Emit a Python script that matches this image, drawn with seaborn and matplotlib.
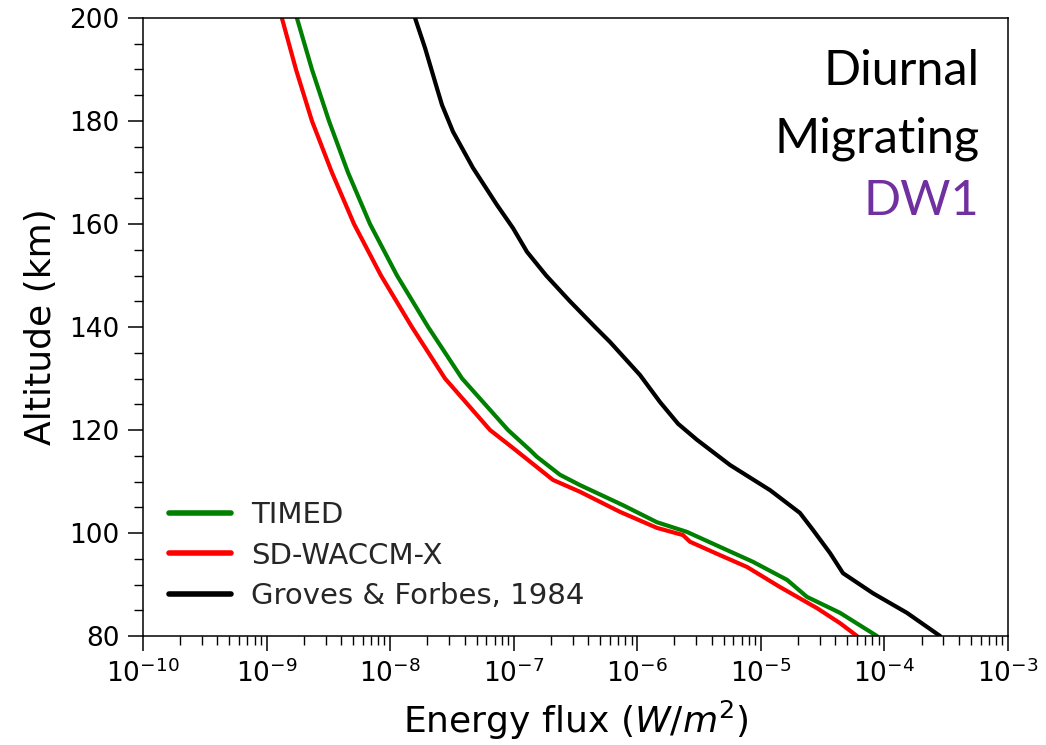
import numpy as np
import pandas as pd
import matplotlib
matplotlib.use("Agg")
import matplotlib.pyplot as plt
import seaborn as sns
from matplotlib.ticker import LogLocator, MultipleLocator, NullFormatter

# ---- data ----
timed_alt = [200, 190, 180, 170, 160, 150, 140, 130, 120, 116.1, 114.8,
             111.3, 109.3, 105.4, 102.1, 100.2, 97.3, 94.4, 90.9, 87.6, 84.5, 80]
timed_flux = [1.76e-9, 2.33e-9, 3.2e-9, 4.56e-9, 6.87e-9, 1.136e-8, 2.03e-8, 3.82e-8, 8.99e-8,
              1.355e-7, 1.54e-7, 2.37e-7, 3.44e-7, 7.66e-7, 1.44e-6, 2.53e-6, 4.67e-6,
              8.64e-6, 1.63e-5, 2.36e-5, 4.37e-5, 8.7e-5]

waccm_alt = [200, 190, 180, 170, 160, 150, 140, 130, 120, 116.5, 110.3,
             108, 104.1, 101, 99.6, 98.3, 95.7, 93.4, 89.5, 85.4, 82.5, 80]
waccm_flux = [1.33e-9, 1.73e-9, 2.33e-9, 3.38e-9, 5.1e-9, 8.43e-9, 1.5e-8, 2.78e-8, 6.43e-8,
              9.87e-8, 2.08e-7, 3.44e-7, 7.25e-7, 1.44e-6, 2.34e-6, 2.67e-6, 4.67e-6,
              7.73e-6, 1.43e-5, 2.85e-5, 4.37e-5, 6.0e-5]

gf_alt = [200, 194.2, 186.4, 183.1, 177.9, 170.9, 163.7, 159.2, 154.6, 150, 145, 140, 137.1, 130.7,
          125.4, 121.2, 118.1, 113.2, 108.3, 103.9, 100.6, 96.1, 92.2, 88.3, 84.5, 80]
gf_flux = [1.59e-8, 1.915e-8, 2.39e-8, 2.63e-8, 3.23e-8, 4.68e-8, 7.32e-8, 9.87e-8, 1.28e-7, 1.83e-7,
           2.85e-7, 4.55e-7, 6.01e-7, 1.05e-6, 1.53e-6, 2.14e-6, 3.04e-6, 5.63e-6, 1.19e-5, 2.07e-5,
           2.64e-5, 3.63e-5, 4.62e-5, 8.08e-5, 1.52e-4, 2.82e-4]

series_names = ["TIMED", "SD-WACCM-X", "Groves & Forbes, 1984"]
series_colors = ["green", "red", "black"]

df = pd.concat([
    pd.DataFrame({"flux": timed_flux, "alt": timed_alt, "source": series_names[0]}),
    pd.DataFrame({"flux": waccm_flux, "alt": waccm_alt, "source": series_names[1]}),
    pd.DataFrame({"flux": gf_flux, "alt": gf_alt, "source": series_names[2]}),
], ignore_index=True)

sns.set_theme(style="ticks")
plt.rcParams["font.family"] = ["DejaVu Sans"]
plt.rcParams["mathtext.fontset"] = "dejavusans"

fig = plt.figure(figsize=(10.46, 7.45), dpi=100)
ax = fig.add_axes([143 / 1046, 1 - 636 / 745, (1008 - 143) / 1046, (636 - 18) / 745])

sns.lineplot(data=df, x="flux", y="alt", hue="source", palette=dict(zip(series_names, series_colors)),
             sort=False, estimator=None, linewidth=3, ax=ax)

ax.set_xscale("log")
ax.set_xlim(1e-10, 1e-3)
ax.set_ylim(80, 200)
ax.xaxis.set_major_locator(LogLocator(base=10, numticks=20))
ax.xaxis.set_minor_locator(LogLocator(base=10, subs=np.arange(2, 10), numticks=100))
ax.xaxis.set_minor_formatter(NullFormatter())
ax.yaxis.set_major_locator(MultipleLocator(20))
ax.yaxis.set_minor_locator(MultipleLocator(5))

ax.tick_params(which="major", direction="out", length=11, width=1.1, labelsize=19, color="black",
               labelcolor="black", pad=6)
ax.tick_params(which="minor", direction="out", length=6.5, width=1.0, color="black")
for s in ax.spines.values():
    s.set_visible(True)
    s.set_color("black")
    s.set_linewidth(1.1)

ax.set_xlabel(r"Energy flux ($W/m^2$)", fontsize=26, color="black", labelpad=8)
ax.set_ylabel("Altitude (km)", fontsize=26, color="black", labelpad=8)

leg = ax.legend(loc="lower left", frameon=False, fontsize=21, handlelength=2.1, handletextpad=0.7,
                labelspacing=0.42, borderaxespad=0.5, bbox_to_anchor=(0.0, 0.0))
for line in leg.get_lines():
    line.set_linewidth(4)

txt_font = ["Lato", "DejaVu Sans"]
ax.text(0.967, 0.8916, "Diurnal", transform=ax.transAxes, ha="right", va="baseline",
        fontsize=35, family=txt_font, color="black")
ax.text(0.967, 0.783, "Migrating", transform=ax.transAxes, ha="right", va="baseline",
        fontsize=35, family=txt_font, color="black")
ax.text(0.967, 0.681, "DW1", transform=ax.transAxes, ha="right", va="baseline",
        fontsize=35, family=txt_font, color="#7030A0")

fig.savefig("out.png", dpi=100, facecolor="white")
